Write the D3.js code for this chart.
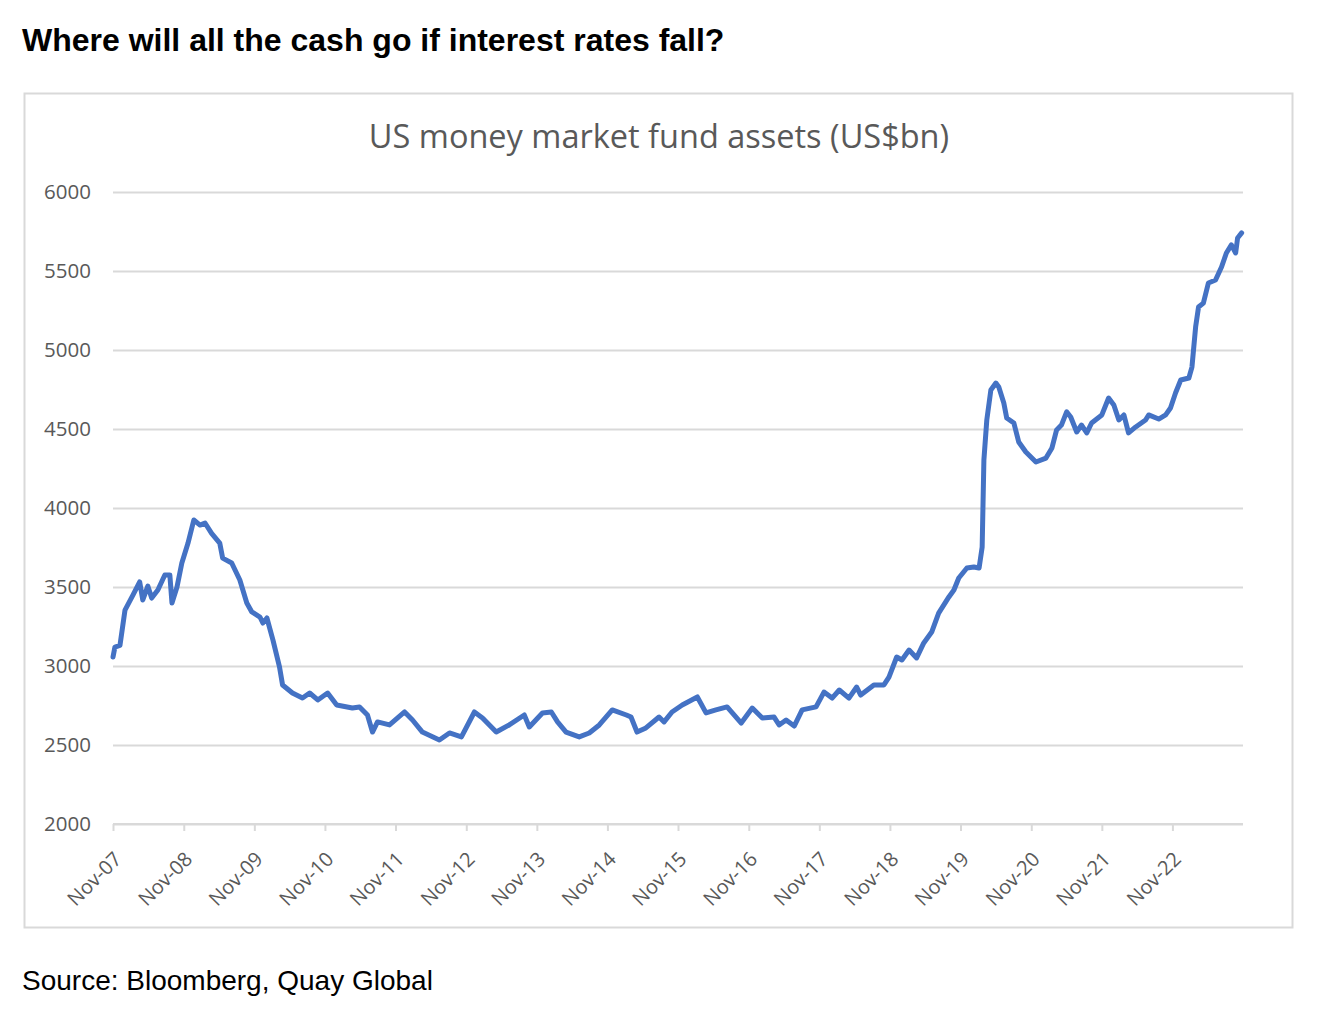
<!DOCTYPE html>
<html>
<head>
<meta charset="utf-8">
<script src="https://cdn.jsdelivr.net/npm/d3@7"></script>
<style>
  body { margin: 0; background: #fff; }
  #canvas { width: 1327px; height: 1014px; }
</style>
</head>
<body>
<div id="canvas"></div>
<script>
// readings, dates and US$bn
const dates = [
  "2007-11-01","2007-11-11","2007-12-07","2008-01-02","2008-02-12","2008-03-18","2008-04-03","2008-04-29",
  "2008-05-19","2008-06-20","2008-07-26","2008-08-21","2008-09-01","2008-09-27","2008-10-22","2008-11-23",
  "2008-12-23","2009-01-24","2009-02-19","2009-03-25","2009-05-06","2009-05-21","2009-07-07","2009-08-18",
  "2009-09-23","2009-10-19","2009-11-30","2009-12-15","2010-01-05","2010-02-05","2010-03-11","2010-03-27",
  "2010-05-17","2010-07-08","2010-08-14","2010-09-25","2010-11-15","2011-01-01","2011-03-23","2011-04-29",
  "2011-06-09","2011-07-05","2011-07-31","2011-10-01","2011-12-18","2012-01-28","2012-03-19","2012-06-15",
  "2012-08-06","2012-10-07","2012-12-13","2013-01-24","2013-04-05","2013-06-11","2013-08-28","2013-09-23",
  "2013-11-30","2014-01-15","2014-02-16","2014-04-01","2014-06-08","2014-07-30","2014-09-20","2014-11-26",
  "2015-02-07","2015-03-03","2015-04-03","2015-05-19","2015-07-26","2015-08-21","2015-10-01","2015-11-23",
  "2016-02-09","2016-03-25","2016-05-15","2016-07-12","2016-09-23","2016-11-19","2017-01-10","2017-03-12",
  "2017-04-07","2017-05-13","2017-06-24","2017-08-04","2017-10-15","2017-11-25","2018-01-06","2018-02-12",
  "2018-04-03","2018-05-13","2018-06-03","2018-08-10","2018-10-01","2018-10-27","2018-12-06","2019-01-02",
  "2019-02-08","2019-03-19","2019-04-25","2019-06-05","2019-07-11","2019-09-02","2019-09-28","2019-10-23",
  "2019-12-04","2020-01-09","2020-02-05","2020-02-21","2020-03-01","2020-03-16","2020-04-06","2020-05-02",
  "2020-05-17","2020-06-12","2020-06-27","2020-08-03","2020-08-28","2020-10-04","2020-11-25","2021-01-16",
  "2021-02-16","2021-03-12","2021-04-06","2021-05-03","2021-05-24","2021-06-24","2021-07-19","2021-08-15",
  "2021-09-09","2021-11-01","2021-12-06","2022-01-02","2022-01-28","2022-02-23","2022-03-19","2022-04-25",
  "2022-06-15","2022-07-01","2022-08-22","2022-09-27","2022-10-22","2022-11-17","2022-12-14","2023-01-25",
  "2023-02-10","2023-03-01","2023-03-16","2023-04-10","2023-05-06","2023-06-12","2023-07-13","2023-08-07",
  "2023-09-02","2023-09-24","2023-10-04","2023-10-25"
];
const assets = [
  3057,3120,3130,3354,3449,3532,3418,3506,
  3430,3481,3576,3576,3399,3500,3652,3778,
  3924,3892,3905,3840,3778,3683,3652,3544,
  3399,3342,3310,3272,3304,3165,2994,2880,
  2829,2797,2829,2785,2829,2753,2734,2741,
  2690,2582,2646,2627,2709,2658,2582,2532,
  2576,2551,2709,2671,2582,2627,2690,2614,
  2703,2709,2646,2582,2551,2576,2627,2722,
  2690,2677,2582,2608,2677,2646,2709,2753,
  2804,2703,2722,2741,2639,2734,2671,2677,
  2627,2658,2620,2722,2741,2835,2797,2848,
  2797,2867,2816,2880,2880,2930,3057,3038,
  3101,3051,3146,3215,3335,3437,3481,3557,
  3620,3627,3620,3753,4304,4557,4747,4791,
  4766,4665,4570,4538,4418,4354,4291,4316,
  4380,4494,4525,4608,4576,4481,4525,4475,
  4538,4589,4696,4652,4557,4589,4475,4513,
  4557,4589,4563,4589,4633,4728,4810,4823,
  4892,5146,5272,5297,5424,5443,5525,5614,
  5665,5614,5709,5741
];
const yTicks = [2000, 2500, 3000, 3500, 4000, 4500, 5000, 5500, 6000];
const xTickYears = [2007,2008,2009,2010,2011,2012,2013,2014,2015,2016,2017,2018,2019,2020,2021,2022];

const width = 1327;
const height = 1014;
const margin = { top: 192, left: 113, bottom: 190, right: 84 };
const iwidth = width - margin.left - margin.right;
const iheight = height - margin.top - margin.bottom;

const parse = d3.timeParse("%Y-%m-%d");
const data = dates.map((d, i) => ({ date: parse(d), value: assets[i] }));

const svg = d3.select("#canvas").append("svg")
  .attr("width", width)
  .attr("height", height)
  .style("font-family", "'Liberation Sans', Arial, sans-serif");

svg.append("text")
  .attr("x", 22).attr("y", 51)
  .attr("font-size", 32).attr("font-weight", "bold")
  .attr("fill", "#000")
  .text("Where will all the cash go if interest rates fall?");

svg.append("rect")
  .attr("x", 24.5).attr("y", 93.5)
  .attr("width", 1268).attr("height", 834)
  .attr("fill", "none").attr("stroke", "#d9d9d9").attr("stroke-width", 2);

svg.append("text")
  .attr("x", 659).attr("y", 148)
  .attr("text-anchor", "middle")
  .attr("font-family", "'Open Sans', sans-serif")
  .attr("font-size", 32.5)
  .attr("fill", "#595959")
  .text("US money market fund assets (US$bn)");

svg.append("text")
  .attr("x", 22).attr("y", 990)
  .attr("font-size", 28)
  .attr("fill", "#000")
  .text("Source: Bloomberg, Quay Global");

let g = svg.append("g").attr("transform", `translate(${margin.left},${margin.top})`);

var x = d3.scaleTime()
  .domain([new Date(2007, 10, 1), new Date(2023, 10, 1)])
  .range([0, iwidth]);

var y = d3.scaleLinear()
  .domain([2000, 6000])
  .range([iheight, 0]);

// gridlines
g.append("g")
  .attr("class", "grid")
  .call(d3.axisLeft(y).tickValues(yTicks).tickSize(-iwidth).tickFormat(""))
  .call(s => s.select(".domain").remove())
  .call(s => s.selectAll("line").attr("stroke", "#d9d9d9").attr("stroke-width", 2));

// y labels
g.append("g")
  .attr("class", "axis axis--y")
  .call(d3.axisLeft(y).tickValues(yTicks).tickSize(0).tickPadding(22).tickFormat(d3.format("d")))
  .call(s => s.select(".domain").remove())
  .call(s => s.selectAll("text")
    .attr("font-family", "'Open Sans', sans-serif")
    .attr("font-size", 20.5).attr("fill", "#595959"));

// x axis
const xAxis = g.append("g")
  .attr("class", "axis axis--x")
  .attr("transform", "translate(0," + iheight + ")")
  .call(d3.axisBottom(x)
    .tickValues(xTickYears.map(yr => new Date(yr, 10, 1)))
    .tickSize(7)
    .tickFormat(d3.timeFormat("Nov-%y")));

xAxis.select(".domain").attr("stroke", "#d9d9d9").attr("stroke-width", 2)
  .attr("d", `M0,0H${iwidth}`);
xAxis.selectAll("line").attr("stroke", "#d9d9d9").attr("stroke-width", 2);
xAxis.selectAll("text")
  .attr("font-family", "'Open Sans', sans-serif")
  .attr("font-size", 20).attr("fill", "#595959")
  .attr("text-anchor", "end")
  .attr("dy", null)
  .attr("transform", "translate(4,31) rotate(-45)")
  .attr("x", 0).attr("y", 0)
  .attr("dominant-baseline", "central");

const line = d3.line()
  .x(d => x(d.date))
  .y(d => y(d.value));

g.append("path")
  .datum(data)
  .attr("fill", "none")
  .attr("stroke", "#4472c4")
  .attr("stroke-width", 5)
  .attr("stroke-linejoin", "round")
  .attr("stroke-linecap", "round")
  .attr("d", line);
</script>
</body>
</html>
